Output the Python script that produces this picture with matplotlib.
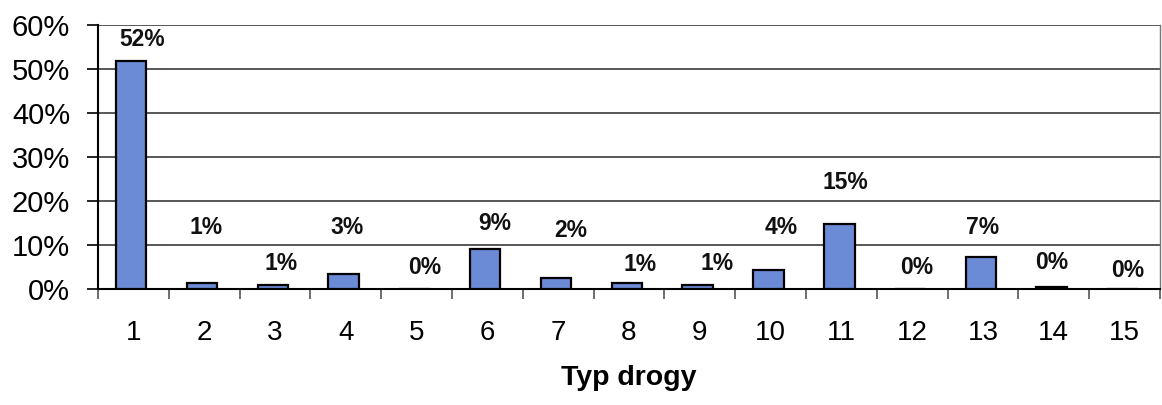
import matplotlib
matplotlib.use("Agg")
import matplotlib.pyplot as plt
from matplotlib.ticker import FixedLocator, PercentFormatter

plt.rcParams['font.family'] = ['Liberation Sans', 'DejaVu Sans']

# Share of each drug type (percent)
categories = list(range(1, 16))
shares = [51.8, 1.3, 0.9, 3.4, 0.0, 9.2, 2.4, 1.3, 0.9, 4.3, 14.7, 0.0, 7.3, 0.4, 0.0]
x_title = "Typ drogy"

# Vertical placement of the value labels (in axis units)
label_y = [56.6, 13.9, 5.9, 13.9, 4.8, 14.8, 13.4, 5.5, 5.9, 13.9, 24.1, 4.8, 13.9, 6.1, 4.3]
label_dx = [0.12, 0.02, 0.08, 0.02, 0.12, 0.10, 0.18, 0.15, 0.25, 0.15, 0.05, 0.07, 0.0, -0.03, 0.05]

fig = plt.figure(figsize=(11.62, 4.05), dpi=100)
ax = fig.add_axes([0.0843, 0.2864, 0.914, 0.652])

ax.bar([c - 0.03 for c in categories], shares, width=0.43,
       color="#6b8bd6", edgecolor="black", linewidth=1.6, zorder=3)

for c, v, ly, dx in zip(categories, shares, label_y, label_dx):
    ax.text(c + dx, ly, f"{round(v):d}%", ha="center", va="center",
            fontsize=16.5, fontweight="bold", color="#111111", zorder=4)

ax.set_xlim(0.5, 15.5)
ax.set_ylim(0, 60)
ax.yaxis.set_major_locator(FixedLocator([0, 10, 20, 30, 40, 50, 60]))
ax.yaxis.set_major_formatter(PercentFormatter(decimals=0))
ax.grid(axis="y", color="#4a4a4a", linewidth=1.3, zorder=1)

# category labels centred, tick marks at category boundaries
ax.set_xticks(categories)
ax.set_xticklabels([str(c) for c in categories])
ax.tick_params(axis="x", which="major", length=0, pad=22, labelsize=20)
ax.set_xticks([c + 0.5 for c in range(0, 16)], minor=True)
ax.tick_params(axis="x", which="minor", length=7, width=1.2, color="#555555")
ax.tick_params(axis="y", length=8, width=1.2, labelsize=21, pad=12)

ax.set_xlabel(x_title, fontsize=20.5, fontweight="bold", labelpad=14)

for side in ("left", "bottom"):
    ax.spines[side].set_color("black")
    ax.spines[side].set_linewidth(1.5)
ax.spines["top"].set_visible(False)
ax.spines["right"].set_color("#777777")
ax.spines["right"].set_linewidth(1.0)

fig.savefig("out.png", dpi=100)
